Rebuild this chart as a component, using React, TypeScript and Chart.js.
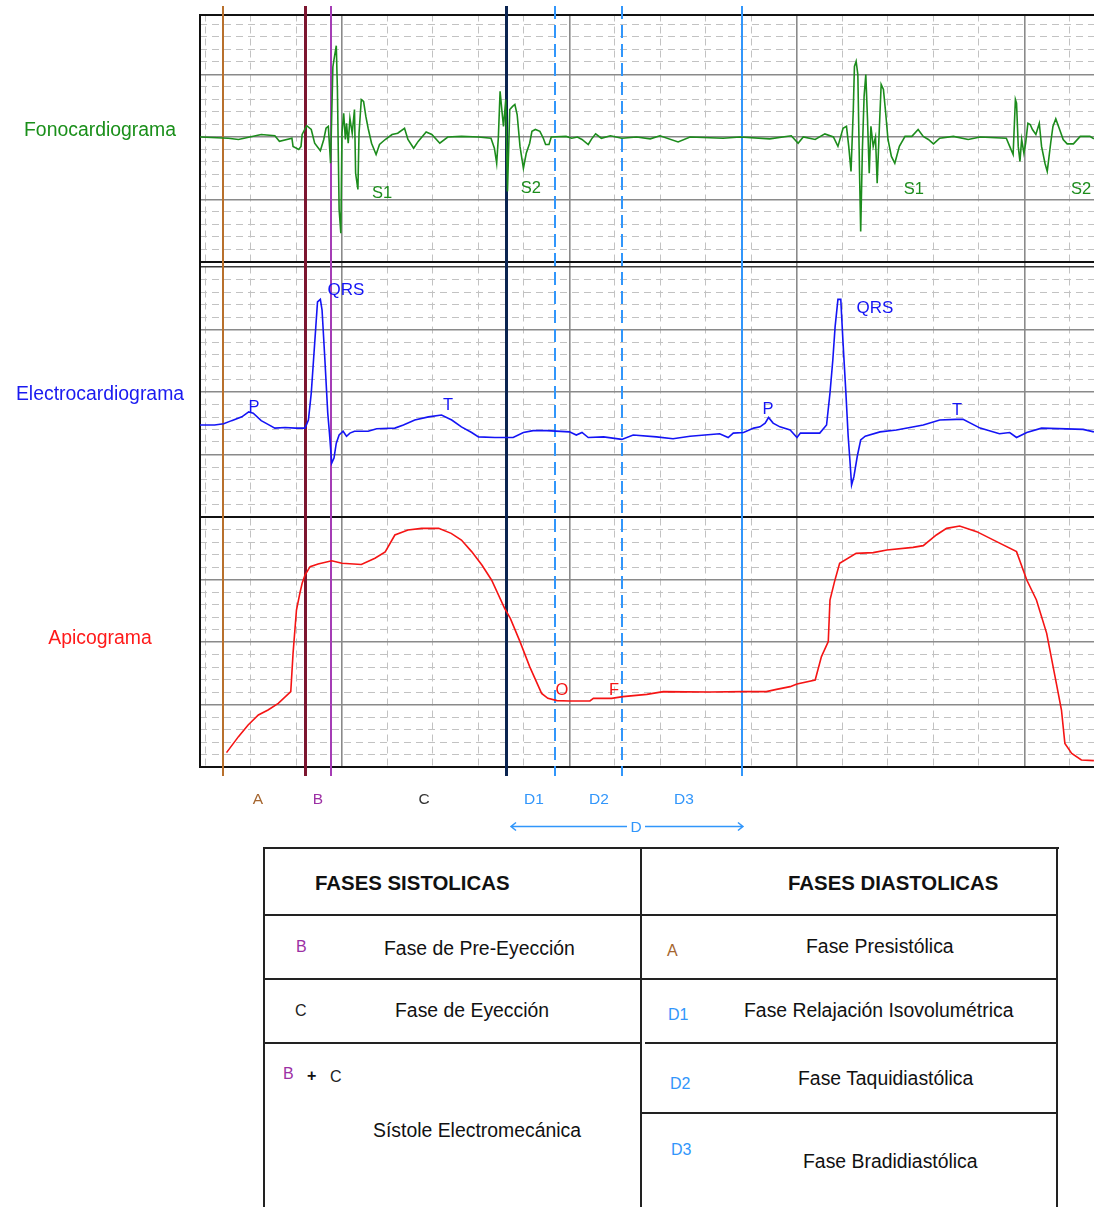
import React, { useEffect, useRef } from "react";
import { Chart, registerables } from "chart.js";

Chart.register(...registerables);

// ---------- axes ranges (time in ms, y in panel units: 1 unit = 1 major division) ----------
const X_MIN = 75.2;
const X_MAX = 861.1;
const Y_MIN = 0;
const Y_MAX = 12.04;
const MAJOR_X = [200, 400, 600, 800];
const PANEL_EDGES = [0, 4, 8, 8.08, 12.04];
const PANEL_MAJOR_Y = [1, 2, 3, 5, 6, 7, 9.08, 10.08, 11.08];
const PANEL_STARTS = [0, 4, 8.08];

// baselines of the three traces (panel units)
const FONO_BASE = 10.08;
const ECG_BASE = 5.472;
const APICO_BASE = 0;

// ---------- series: [time ms, amplitude in small divisions] ----------
const FONO: number[][] = [
  [75, 0], [100, -0.1], [109, -0.2], [129, 0.2], [141, 0.1], [145, -0.35], [156, -0.1], [157, -0.75],
  [162, -1.0], [164, -0.75], [165, 0.2], [169, 0.9], [173, 0.6], [176, -0.5], [181, -1.1], [184, -0.2],
  [186, 0.7], [188, 0.85], [190, -2.1], [192, 5.6], [193, 6.2], [195, 7.3], [196, 3.8], [197.5, -5.8],
  [199, -7.7], [200, 0.3], [201.5, 1.9], [203, -0.2], [204, 1.1], [205.5, -0.5], [207, 1.5], [209, 0.3],
  [211, 2.2], [212, -2.9], [214, -4.2], [215, 0.3], [217, 3.0], [219, 2.85], [221, 1.65], [223, 0.7],
  [226, -0.5], [230, -1.4], [233, -0.6], [238, -0.2], [244, 0.2], [249, 0.3], [255, 0.7], [258, -0.2],
  [263, -0.9], [267, -0.35], [274, 0.4], [279, 0.2], [286, -0.5], [293, 0], [305, 0.05], [320, 0],
  [331, -0.1], [334, -0.9], [336, -2.1], [337.5, 0], [339, 3.65], [340.5, 2.2], [342, 0.85], [344, 3.0],
  [345.5, -4.35], [347.5, 2.2], [350, 2.45], [352, 2.6], [354, 1.8], [356.5, -0.75], [359.5, -2.5],
  [362, -1.3], [365, -0.5], [367, 0.45], [370, 0.6], [374, 0.45], [377, -0.1], [379, -0.6], [382, -0.6],
  [384, 0], [397, 0.05], [402, -0.1], [407, 0], [411, -0.2], [416.5, -0.6], [419.5, -0.15], [423, 0.25],
  [428, -0.1], [436, 0.1], [446, -0.1], [459, 0], [471, -0.15], [479.5, 0.1], [495.5, -0.4], [506, 0],
  [535, -0.1], [550, 0], [576, -0.15], [595, 0.1], [601, -0.5], [605.5, 0], [616, -0.2], [624.5, 0.25],
  [632, 0], [636, -0.75], [640.5, 0.7], [643.5, 0.85], [645.5, -0.75], [647.5, -2.75], [649.5, 2.2],
  [650.5, 5.65], [652, 6.05], [653.5, 5.0], [655, -2.9], [656, -7.55], [657.5, -1.0], [659, 3.25],
  [660.5, 5.0], [662, 1.4], [663.5, -2.9], [665, 0.85], [667, -0.75], [669, 0], [670.5, -3.7], [672, -0.2],
  [674, 4.2], [676, 3.8], [678, 1.9], [680, -0.2], [683, -1.55], [686, -2.1], [690, -0.75], [695, 0.05],
  [701, 0.05], [706.5, 0.6], [711, 0.05], [715.5, -0.2], [720, -0.55], [725.5, -0.1], [737.5, 0.05],
  [750.5, -0.2], [761, 0], [784, -0.1], [787, -0.75], [790, -1.4], [792, 3.0], [793, 2.7], [794.5, -0.75],
  [796, -1.95], [797.5, -0.2], [799.5, -1.3], [801, -0.5], [803, 1.1], [805, 1.0], [807, 0.6], [810, 0.2],
  [813, 1.1], [815, -0.75], [818, -2.1], [820, -2.75], [823, -0.5], [825, 0.85], [827.5, 1.45],
  [830.5, 0.7], [834, -0.2], [837.5, -0.55], [843, -0.55], [849, 0.05], [857.5, 0.05], [861, -0.15],
];

const ECG: number[][] = [
  [75, 0], [88, 0], [96, 0.1], [103, 0.35], [112, 0.65], [118, 1.05], [122, 0.95], [129, 0.35],
  [135, 0.05], [141, -0.25], [150, -0.2], [159, -0.25], [167.5, -0.25], [170.5, 0.4], [173, 2.55],
  [175, 5.2], [177, 7.85], [178.5, 9.85], [181, 10.05], [182.5, 9.2], [185, 5.2], [187.5, 0.95],
  [189, -0.65], [191, -3.05], [193, -2.65], [195, -1.45], [197.5, -0.8], [201, -0.5], [204, -0.9],
  [207, -0.65], [211, -0.5], [223, -0.5], [230.5, -0.3], [246.5, -0.25], [254, 0], [264, 0.4],
  [276, 0.65], [287.5, 0.8], [296.5, 0.4], [305, -0.15], [314, -0.6], [320, -0.95], [334.5, -1.0],
  [350.5, -1.0], [359.5, -0.6], [368, -0.45], [380, -0.45], [400, -0.55], [406, -0.8], [411, -0.6],
  [416.5, -1.0], [430, -0.95], [446, -1.15], [456, -0.8], [476.5, -0.95], [491, -1.1], [506, -0.9],
  [532, -0.7], [539.5, -1.0], [544, -0.65], [553, -0.6], [562, -0.25], [567.5, -0.15], [572, 0.15],
  [575, 0.6], [579, 0.15], [585, -0.15], [594, -0.4], [600, -1.0], [603, -0.65], [620, -0.65], [626, 0],
  [629, 2.55], [631.5, 5.2], [633.5, 7.85], [636, 10.05], [638.5, 10.05], [640.5, 6.55], [643, 2.55],
  [645, -0.9], [646.5, -2.8], [648, -4.8], [650, -4.15], [653, -2.5], [656, -1.2], [660, -0.9],
  [673, -0.55], [687.5, -0.4], [711, 0], [725.5, 0.4], [740, 0.45], [746, 0.45], [761, -0.25],
  [778, -0.7], [787, -0.6], [793, -1.0], [802, -0.6], [815, -0.25], [851.5, -0.35], [861, -0.55],
];

const APICO: number[][] = [
  [98.5, 1.15], [109, 2.43], [117.5, 3.36], [126.5, 4.16], [135, 4.56], [144, 5.09], [155, 6.03],
  [157, 9.09], [160, 12.56], [163, 13.9], [165, 14.7], [167.5, 15.36], [172, 16.03], [179, 16.24],
  [191, 16.5], [200, 16.3], [217, 16.2], [229, 16.7], [238, 17.2], [246.5, 18.56], [258, 18.96],
  [270, 19.09], [285, 19.09], [296, 18.69], [305, 18.16], [314, 17.23], [323, 16.16], [331.5, 14.96],
  [343, 12.69], [348, 11.89], [356.5, 10.03], [365, 8.03], [375.5, 5.89], [381, 5.49], [389, 5.31],
  [400, 5.28], [418, 5.28], [421, 5.49], [437, 5.49], [447, 5.63], [468, 5.81], [482.5, 6.03],
  [523.5, 6.0], [553, 6.03], [573, 6.03], [582, 6.21], [594, 6.43], [600, 6.64], [616, 6.96],
  [621.5, 8.83], [627.5, 10.03], [629, 13.36], [633, 14.83], [637.5, 16.29], [652, 17.09], [667, 17.15],
  [679, 17.36], [702, 17.57], [711, 17.71], [722.5, 18.56], [731.5, 19.09], [743, 19.28], [758, 18.83],
  [775.5, 18.03], [793, 17.23], [802, 14.96], [810.5, 13.36], [819.5, 10.69], [828, 6.69],
  [832.5, 4.56], [835.5, 1.89], [841.5, 1.09], [850, 0.56], [861, 0.51],
];

// ---------- phase boundaries (ms) ----------
const PHASE_TIMES = [95.7, 167.5, 190.3, 344.2, 387.0, 446.1, 551.6];
const PHASE_LINE_TOP = 12.176;
const PHASE_LINE_BOTTOM = -0.144;

// phase letters below the chart [text, ms]
const PHASE_LABELS: [string, number][] = [
  ["A", 126.2], ["B", 178.9], ["C", 272.1], ["D1", 368.8], ["D2", 425.9], ["D3", 500.7],
];
const PHASE_LABEL_Y = -0.53;
const D_SPAN = [348.6, 552.5];
const D_LABEL_T = 458.5;
const D_ROW_Y = -0.944;

// wave markers [text, ms, amplitude in small divisions]
const FONO_MARKS: [string, number, number][] = [
  ["S1", 235.2, -4.5], ["S2", 366.1, -4.1], ["S1", 702.8, -4.2], ["S2", 849.7, -4.2],
];
const ECG_MARKS: [string, number, number][] = [
  ["P", 122.6, 1.44], ["QRS", 203.5, 10.8], ["T", 293.2, 1.6],
  ["P", 574.5, 1.28], ["QRS", 668.6, 9.36], ["T", 740.6, 1.2],
];
const APICO_MARKS: [string, number, number][] = [
  ["O", 393.4, 6.16], ["F", 439.1, 6.16],
];

const TRACE_NAMES = ["Fonocardiograma", "Electrocardiograma", "Apicograma"];
const TRACE_NAME_Y = [10.176, 5.952, 2.048];

// ---------- styles ----------
const GREEN = "#1c8c1c";
const BLUE = "#1414f5";
const RED = "#f51414";
const LIGHT_BLUE = "#3196fb";
const NAME_COLORS = ["#1a8f1a", "#1a1af0", "#ff1a1a"];
const PHASE_LINE_STYLES = [
  { color: "#b8702c", width: 2, dash: [] as number[] },
  { color: "#7c1630", width: 3, dash: [] as number[] },
  { color: "#a53cb5", width: 2, dash: [] as number[] },
  { color: "#0a2450", width: 3, dash: [] as number[] },
  { color: LIGHT_BLUE, width: 2, dash: [13, 6] },
  { color: LIGHT_BLUE, width: 2, dash: [13, 6] },
  { color: LIGHT_BLUE, width: 2, dash: [] as number[] },
];
const PHASE_LABEL_COLORS = ["#a5652e", "#9c2fa4", "#333333", LIGHT_BLUE, LIGHT_BLUE, LIGHT_BLUE];
const FONT = "'Liberation Sans', Arial, sans-serif";

const CANVAS_W = 1094;
const CANVAS_H = 845;

function minorTicks(from: number, to: number, step: number, skip: number[]) {
  const out: number[] = [];
  const n = Math.round((to - from) / step);
  for (let i = 0; i <= n; i++) {
    const v = +(from + i * step).toFixed(4);
    if (!skip.some((s) => Math.abs(s - v) < 1e-6)) out.push(v);
  }
  return out;
}

const overlayPlugin = {
  id: "overlay",
  beforeDatasetsDraw(chart: any) {
    const { ctx } = chart;
    const xs = chart.scales.x;
    const ys = chart.scales.y;
    const yTop = ys.getPixelForValue(PHASE_LINE_TOP);
    const yBot = ys.getPixelForValue(PHASE_LINE_BOTTOM);
    PHASE_TIMES.forEach((t, i) => {
      const s = PHASE_LINE_STYLES[i];
      const px = Math.round(xs.getPixelForValue(t)) + (s.width % 2 ? 0.5 : 0);
      ctx.save();
      ctx.strokeStyle = s.color;
      ctx.lineWidth = s.width;
      ctx.setLineDash(s.dash);
      ctx.beginPath();
      ctx.moveTo(px, yTop);
      ctx.lineTo(px, yBot);
      ctx.stroke();
      ctx.restore();
    });
  },
  afterDatasetsDraw(chart: any) {
    const { ctx, chartArea } = chart;
    const xs = chart.scales.x;
    const ys = chart.scales.y;
    ctx.save();
    ctx.textAlign = "center";
    ctx.textBaseline = "middle";

    const marks = (list: [string, number, number][], base: number, color: string) => {
      ctx.fillStyle = color;
      list.forEach(([txt, t, v]) => {
        ctx.font = `${txt === "QRS" ? 17 : 16.5}px ${FONT}`;
        ctx.fillText(txt, xs.getPixelForValue(t), ys.getPixelForValue(base + v / 5));
      });
    };
    marks(FONO_MARKS, FONO_BASE, GREEN);
    marks(ECG_MARKS, ECG_BASE, BLUE);
    marks(APICO_MARKS, APICO_BASE, RED);

    // trace names on the left
    ctx.font = `19.4px ${FONT}`;
    TRACE_NAMES.forEach((name, i) => {
      ctx.fillStyle = NAME_COLORS[i];
      ctx.fillText(name, chartArea.left - 100, ys.getPixelForValue(TRACE_NAME_Y[i]));
    });

    // phase letters
    ctx.font = `15.5px ${FONT}`;
    PHASE_LABELS.forEach(([txt, t], i) => {
      ctx.fillStyle = PHASE_LABEL_COLORS[i];
      ctx.fillText(txt, xs.getPixelForValue(t), ys.getPixelForValue(PHASE_LABEL_Y));
    });

    // D arrow
    const yA = Math.round(ys.getPixelForValue(D_ROW_Y)) + 0.5;
    const x1 = xs.getPixelForValue(D_SPAN[0]);
    const x2 = xs.getPixelForValue(D_SPAN[1]);
    const xm = xs.getPixelForValue(D_LABEL_T);
    ctx.strokeStyle = LIGHT_BLUE;
    ctx.fillStyle = LIGHT_BLUE;
    ctx.lineWidth = 1.5;
    ctx.beginPath();
    ctx.moveTo(x1, yA);
    ctx.lineTo(xm - 9, yA);
    ctx.moveTo(xm + 9, yA);
    ctx.lineTo(x2, yA);
    ctx.moveTo(x1 + 5, yA - 4);
    ctx.lineTo(x1, yA);
    ctx.lineTo(x1 + 5, yA + 4);
    ctx.moveTo(x2 - 5, yA - 4);
    ctx.lineTo(x2, yA);
    ctx.lineTo(x2 - 5, yA + 4);
    ctx.stroke();
    ctx.font = `15.5px ${FONT}`;
    ctx.fillText("D", xm, yA + 1);
    ctx.restore();
  },
};

function hiddenAxis(extra: any) {
  return {
    display: true,
    ticks: { display: false },
    border: { display: false },
    ...extra,
  };
}

function ChartView() {
  const ref = useRef<HTMLCanvasElement | null>(null);
  useEffect(() => {
    if (!ref.current) return;
    const toPts = (arr: number[][], base: number) => arr.map(([t, v]) => ({ x: t, y: base + v / 5 }));
    const minorX = minorTicks(80, 840, 40, MAJOR_X);
    const minorY = [
      ...minorTicks(0.2, 3.8, 0.2, [1, 2, 3]),
      ...minorTicks(4.2, 7.8, 0.2, [5, 6, 7]),
      ...minorTicks(8.28, 11.88, 0.2, [9.08, 10.08, 11.08]),
    ];
    const setTicks = (vals: number[]) => (scale: any) => {
      scale.ticks = vals.map((v) => ({ value: v }));
    };
    const chart = new Chart(ref.current, {
      type: "line",
      data: {
        datasets: [
          { data: toPts(FONO, FONO_BASE), borderColor: GREEN, borderWidth: 1.6, pointRadius: 0, tension: 0 },
          { data: toPts(ECG, ECG_BASE), borderColor: BLUE, borderWidth: 1.6, pointRadius: 0, tension: 0 },
          { data: toPts(APICO, APICO_BASE), borderColor: RED, borderWidth: 1.6, pointRadius: 0, tension: 0 },
        ],
      },
      options: {
        animation: false,
        responsive: false,
        devicePixelRatio: 1,
        layout: { padding: { left: 200, top: 14.5, right: 0, bottom: CANVAS_H - 767 } },
        plugins: { legend: { display: false }, tooltip: { enabled: false }, title: { display: false } },
        scales: {
          xMinor: hiddenAxis({
            type: "linear", position: "bottom", min: X_MIN, max: X_MAX,
            afterBuildTicks: setTicks(minorX),
            grid: { color: "#c2c2c2", lineWidth: 1, drawTicks: false, z: -3 },
            border: { display: false, dash: [7, 5] },
          }),
          yMinor: hiddenAxis({
            type: "linear", position: "left", min: Y_MIN, max: Y_MAX,
            afterBuildTicks: setTicks(minorY),
            grid: { color: "#c2c2c2", lineWidth: 1, drawTicks: false, z: -3 },
            border: { display: false, dash: [7, 5] },
          }),
          x: hiddenAxis({
            type: "linear", position: "bottom", min: X_MIN, max: X_MAX,
            afterBuildTicks: setTicks(MAJOR_X),
            grid: { color: "#8a8a8a", lineWidth: 1.6, drawTicks: false, z: -2 },
          }),
          y: hiddenAxis({
            type: "linear", position: "left", min: Y_MIN, max: Y_MAX,
            afterBuildTicks: setTicks(PANEL_MAJOR_Y),
            grid: { color: "#8a8a8a", lineWidth: 1.6, drawTicks: false, z: -2 },
          }),
          yFrame: {
            type: "linear", position: "left", min: Y_MIN, max: Y_MAX, display: true,
            afterBuildTicks: setTicks(PANEL_EDGES),
            ticks: { display: false },
            grid: {
              drawTicks: false, z: -1,
              color: (c: any) => (c.tick && c.tick.value === 8 ? "#3a3a3a" : "#111"),
              lineWidth: (c: any) => (c.tick && c.tick.value === 8 ? 1.6 : 2),
            },
            border: { display: true, color: "#111", width: 2 },
          },
        },
      } as any,
      plugins: [overlayPlugin],
    });
    return () => chart.destroy();
  }, []);
  return (
    <canvas
      ref={ref}
      width={CANVAS_W}
      height={CANVAS_H}
      style={{ position: "absolute", left: 0, top: 0, width: CANVAS_W, height: CANVAS_H, display: "block" }}
    />
  );
}

// ---------- legend table ----------
function Txt(props: { x: number; y: number; size?: number; color?: string; bold?: boolean; children: React.ReactNode }) {
  const size = props.size ?? 19.4;
  const h = 26;
  return (
    <div
      style={{
        position: "absolute",
        left: props.x,
        top: props.y - h / 2,
        height: h,
        lineHeight: `${h}px`,
        fontSize: size,
        fontFamily: FONT,
        fontWeight: props.bold ? 700 : 400,
        color: props.color ?? "#111",
        whiteSpace: "nowrap",
      }}
    >
      {props.children}
    </div>
  );
}

const LINE = "#222";
function HL(p: { x1: number; x2: number; y: number }) {
  return <div style={{ position: "absolute", left: p.x1, top: p.y - 1, width: p.x2 - p.x1, height: 2, background: LINE }} />;
}
function VL(p: { x: number; y1: number; y2: number }) {
  return <div style={{ position: "absolute", left: p.x - 1, top: p.y1, width: 2, height: p.y2 - p.y1, background: LINE }} />;
}

function PhaseTable() {
  const PURPLE = "#9c2fa4";
  const BROWN = "#a5652e";
  return (
    <>
      <HL x1={263} x2={1059} y={848} />
      <VL x={264} y1={847} y2={1215} />
      <VL x={641} y1={847} y2={1215} />
      <VL x={1057} y1={847} y2={1215} />
      <HL x1={263} x2={642} y={915} />
      <HL x1={263} x2={642} y={979} />
      <HL x1={263} x2={642} y={1043} />
      <HL x1={641} x2={1058} y={915} />
      <HL x1={641} x2={1058} y={979} />
      <HL x1={645} x2={1058} y={1043} />
      <HL x1={641} x2={1058} y={1113} />

      <Txt x={315} y={883} size={20.4} bold>FASES SISTOLICAS</Txt>
      <Txt x={788} y={883} size={20.4} bold>FASES DIASTOLICAS</Txt>

      <Txt x={296} y={947} size={16} color={PURPLE}>B</Txt>
      <Txt x={384} y={948}>Fase de Pre-Eyección</Txt>
      <Txt x={295} y={1011} size={16} color="#222">C</Txt>
      <Txt x={395} y={1010}>Fase de Eyección</Txt>
      <Txt x={283} y={1074} size={16} color={PURPLE}>B</Txt>
      <Txt x={307} y={1076} size={16} bold color="#111">+</Txt>
      <Txt x={330} y={1077} size={16} color="#222">C</Txt>
      <Txt x={373} y={1130}>Sístole Electromecánica</Txt>

      <Txt x={667} y={951} size={16} color={BROWN}>A</Txt>
      <Txt x={806} y={946}>Fase Presistólica</Txt>
      <Txt x={668} y={1015} size={16} color={LIGHT_BLUE}>D1</Txt>
      <Txt x={744} y={1010}>Fase Relajación Isovolumétrica</Txt>
      <Txt x={670} y={1084} size={16} color={LIGHT_BLUE}>D2</Txt>
      <Txt x={798} y={1078}>Fase Taquidiastólica</Txt>
      <Txt x={671} y={1150} size={16} color={LIGHT_BLUE}>D3</Txt>
      <Txt x={803} y={1161}>Fase Bradidiastólica</Txt>
    </>
  );
}

export default function App() {
  return (
    <div
      style={{
        position: "absolute",
        left: 0,
        top: 0,
        width: 1094,
        height: 1207,
        overflow: "hidden",
        background: "#fff",
      }}
    >
      <ChartView />
      <PhaseTable />
    </div>
  );
}
